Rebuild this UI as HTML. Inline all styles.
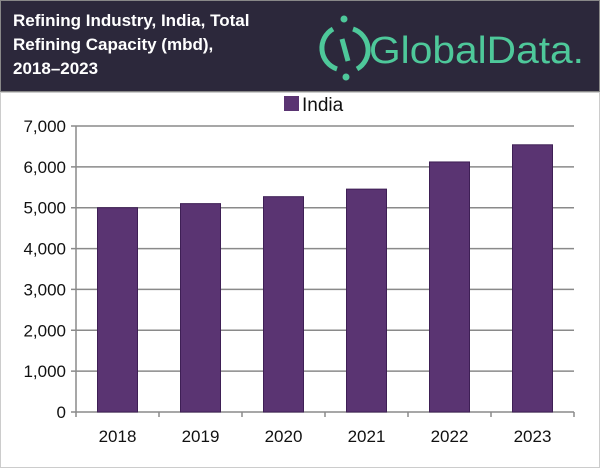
<!DOCTYPE html>
<html><head><meta charset="utf-8"><style>
body{margin:0;width:600px;height:468px;overflow:hidden;background:#fff;font-family:"Liberation Sans",sans-serif}
#hdr{position:absolute;left:0;top:0;width:598px;height:90px;background:#2c283b;border:1px solid #888}
#title{position:absolute;left:12px;top:8px;color:#fff;font-weight:bold;font-size:17px;line-height:24px}
#logo{position:absolute;left:310px;top:10px}
#frame{position:absolute;left:0;top:92px;width:598px;height:374px;border:1px solid #ccc}
</style></head><body>
<div id="hdr">
<div id="title">Refining Industry, India, Total<br>Refining Capacity (mbd),<br>2018–2023</div>
<svg id="logo" width="285" height="70">
<path d="M22 18 A22 22 0 0 0 26 58" fill="none" stroke="#4ec89a" stroke-width="5"/>
<path d="M46 58 A22 22 0 0 0 42 18" fill="none" stroke="#4ec89a" stroke-width="5"/>
<line x1="31" y1="28" x2="37" y2="50" stroke="#4ec89a" stroke-width="5"/>
<circle cx="33" cy="8" r="3.5" fill="#4ec89a"/><circle cx="35" cy="66" r="3.5" fill="#4ec89a"/>
<text x="58" y="52" font-family="Liberation Sans, sans-serif" font-size="38" fill="#4ec89a" textLength="215" lengthAdjust="spacingAndGlyphs">GlobalData.</text>
</svg>
</div>
<div id="frame"></div>
<svg id="chart" width="600" height="468" style="position:absolute;left:0;top:0"></svg>
<script>
const categories=["2018","2019","2020","2021","2022","2023"];
const values=[5000,5100,5270,5455,6120,6540];
const ticks=[0,1000,2000,3000,4000,5000,6000,7000];
const tickLabels=["0","1,000","2,000","3,000","4,000","5,000","6,000","7,000"];
const svg=document.getElementById('chart');const NS='http://www.w3.org/2000/svg';
const L=76,R=574,T=126,B=412,MAX=7000;
const y=v=>B-(v/MAX)*(B-T);
const bw=(R-L)/categories.length;
const x=i=>L+bw*i+bw/2;
function mk(t,a){const e=document.createElementNS(NS,t);for(const k in a)e.setAttribute(k,a[k]);svg.appendChild(e);return e;}
ticks.forEach((v,i)=>{
 const g=mk('line',{x1:L-5,x2:R,y1:y(v),y2:y(v),stroke:'#8a8a8a','stroke-width':1.5});
 
 
 const t=mk('text',{x:L-10,y:y(v)+6,'text-anchor':'end','font-size':17,fill:'#111'});
 t.textContent=tickLabels[i];
 
 
});
const ax=mk('line',{x1:L,x2:L,y1:T,y2:B+5,stroke:'#8a8a8a','stroke-width':1.5});


categories.forEach((c,i)=>{
 const r=mk('rect',{x:x(i)-20,y:y(values[i]),width:40,height:B-y(values[i]),fill:'#5a3472',stroke:'#3e1f55','stroke-width':1});
 
 
 const tk=mk('line',{x1:L+bw*(i+1),x2:L+bw*(i+1),y1:B,y2:B+5,stroke:'#8a8a8a','stroke-width':1.5});
 
 
 const t=mk('text',{x:x(i),y:B+30,'text-anchor':'middle','font-size':17,fill:'#111'});
 t.textContent=c;
 
 
});
const lg=mk('rect',{x:284,y:96,width:15,height:15,fill:'#5a3472'});


const lt=mk('text',{x:302,y:111,'font-size':19,fill:'#111'});
lt.textContent='India';


</script>
</body></html>
